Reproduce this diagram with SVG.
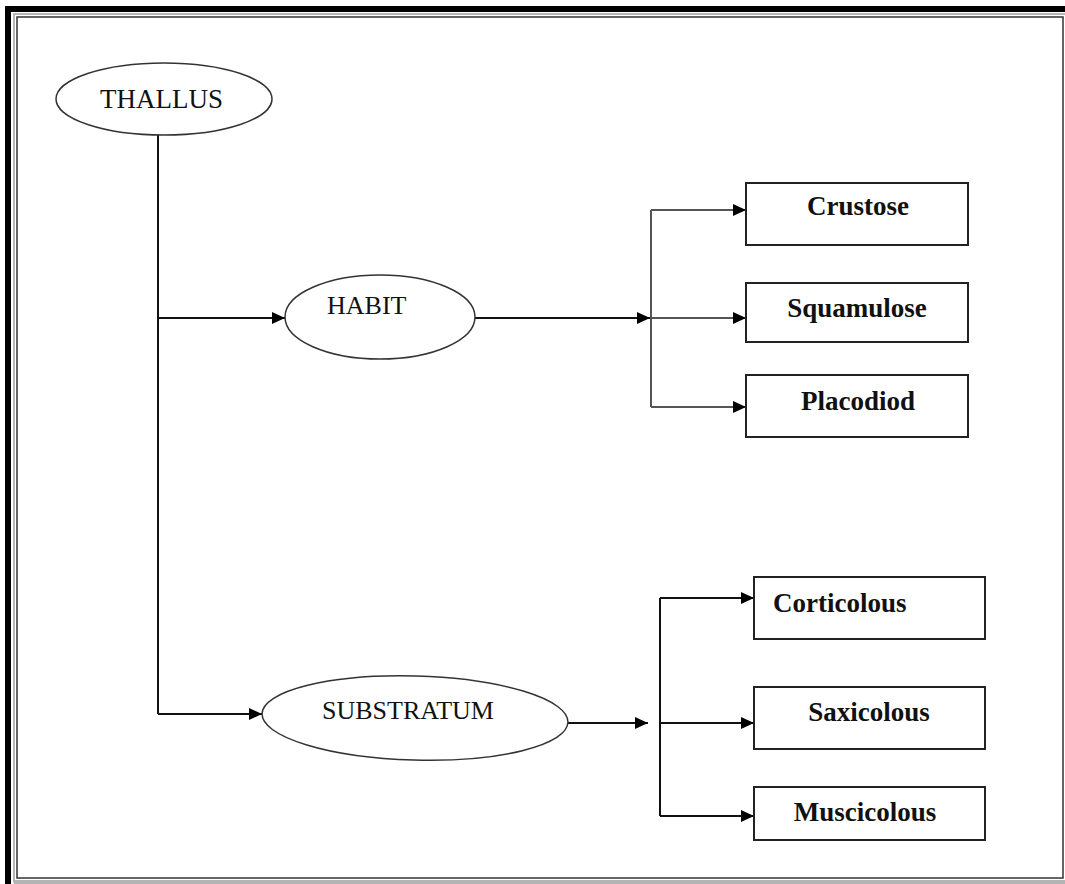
<svg xmlns="http://www.w3.org/2000/svg" width="1065" height="884" viewBox="0 0 1065 884">
  <style>
    .oval { fill: #fff; stroke: #333; stroke-width: 1.5; }
    .box { fill: #fff; stroke: #222; stroke-width: 2; }
    .lbl { font-family: "Liberation Serif", "Times New Roman", serif; font-size: 26px; fill: #111; }
    .bold { font-weight: bold; font-size: 27px; text-anchor: middle; }
    .wire { fill: none; stroke: #111; stroke-width: 2; }
    .wire.soft { stroke: #555; }
  </style>
  <defs>
    <marker id="arrow" markerUnits="userSpaceOnUse" markerWidth="14" markerHeight="12" refX="13" refY="6" orient="auto">
      <path d="M0,0 L13,6 L0,12 Z" fill="#000"/>
    </marker>
  </defs>

  <rect width="1065" height="884" fill="#fff"/>

  <!-- page frame: heavy rule on left/top, thin double rule inside -->
  <g id="frame">
    <rect x="8" y="9" width="1080" height="900" fill="none" stroke="#000" stroke-width="6"/>
    <rect x="14" y="14" width="1060" height="868" fill="none" stroke="#a0a0a0" stroke-width="1.5"/>
    <rect x="17" y="17" width="1046" height="861" fill="none" stroke="#333" stroke-width="1.5"/>
    <rect x="14" y="880" width="1051" height="4" fill="#b4b4b4"/>
  </g>

  <!-- connectors -->
  <g id="connectors">
    <path class="wire" d="M158,135 V714"/>
    <path class="wire" d="M158,318 H285" marker-end="url(#arrow)"/>
    <path class="wire" d="M158,714 H262" marker-end="url(#arrow)"/>
    <path class="wire" d="M475,318 H650" marker-end="url(#arrow)"/>
    <path class="wire soft" d="M651,210 V407"/>
    <path class="wire soft" d="M651,210 H746" marker-end="url(#arrow)"/>
    <path class="wire soft" d="M651,318 H746" marker-end="url(#arrow)"/>
    <path class="wire soft" d="M651,407 H746" marker-end="url(#arrow)"/>
    <path class="wire" d="M568,723 H648" marker-end="url(#arrow)"/>
    <path class="wire" d="M660,598 V816"/>
    <path class="wire" d="M660,598 H754" marker-end="url(#arrow)"/>
    <path class="wire" d="M660,723 H754" marker-end="url(#arrow)"/>
    <path class="wire" d="M660,816 H754" marker-end="url(#arrow)"/>
  </g>

  <g id="thallus">
    <ellipse class="oval" cx="164" cy="99" rx="108" ry="36"/>
    <text class="lbl" x="100" y="108" style="font-size:27px">THALLUS</text>
  </g>

  <g id="habit">
    <ellipse class="oval" cx="380" cy="317" rx="95" ry="42"/>
    <text class="lbl" x="327" y="314">HABIT</text>
  </g>

  <g id="substratum">
    <ellipse class="oval" cx="415" cy="718" rx="153" ry="42" transform="rotate(1.6 415 718)"/>
    <text class="lbl" x="322" y="719">SUBSTRATUM</text>
  </g>

  <g id="crustose">
    <rect class="box" x="746" y="183" width="222" height="62"/>
    <text class="lbl bold" x="858" y="215">Crustose</text>
  </g>

  <g id="squamulose">
    <rect class="box" x="746" y="283" width="222" height="59"/>
    <text class="lbl bold" x="857" y="317">Squamulose</text>
  </g>

  <g id="placodiod">
    <rect class="box" x="746" y="375" width="222" height="62"/>
    <text class="lbl bold" x="858" y="410">Placodiod</text>
  </g>

  <g id="corticolous">
    <rect class="box" x="754" y="577" width="231" height="62"/>
    <text class="lbl bold" x="773" y="612" style="text-anchor:start">Corticolous</text>
  </g>

  <g id="saxicolous">
    <rect class="box" x="754" y="687" width="231" height="62"/>
    <text class="lbl bold" x="869" y="721">Saxicolous</text>
  </g>

  <g id="muscicolous">
    <rect class="box" x="754" y="787" width="231" height="53"/>
    <text class="lbl bold" x="865" y="821">Muscicolous</text>
  </g>
</svg>
